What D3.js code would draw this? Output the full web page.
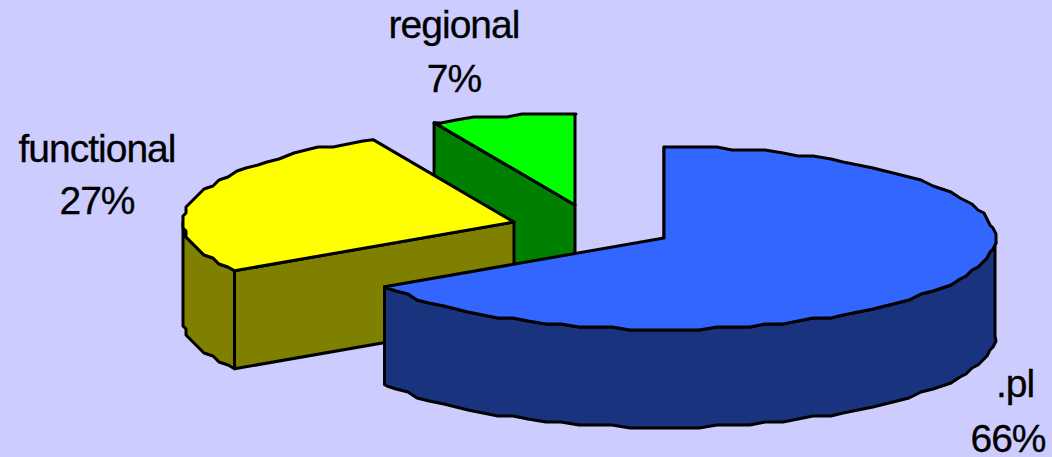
<!DOCTYPE html>
<html>
<head>
<meta charset="utf-8">
<script src="https://cdn.jsdelivr.net/npm/d3@7"></script>
<style>
  html, body { margin: 0; padding: 0; background: #ccccff; }
  svg { display: block; }
  text { font-family: "Liberation Sans", Arial, sans-serif; font-size: 39px; letter-spacing: -1px; fill: #000; stroke: #000; stroke-width: 0.3px; text-anchor: middle; }
</style>
</head>
<body>
<div id="chart"></div>
<script>
// ---- Data ----
const categories = [".pl", "functional", "regional"];
const shares = [66, 27, 7];

// ---- Styles / layout ----
const topColors = ["#3366ff", "#ffff00", "#00ff00"];
const sideColors = ["#19337f", "#808000", "#008000"];
const centers = [[664, 238], [514, 222], [575, 205]]; // exploded slices
const labelAt = [
  [[1015, 397], [1008, 452]],
  [[97, 162], [97, 214]],
  [[454, 38], [454, 92]]
];
const width = 1052, height = 457;
const rx = 331, ry = 91, depth = 98;
const snap = 3; // the source has a stepped, low-res outline
const step = Math.PI / 60; // fixed angle grid, so wall and top rims line up

const svg = d3.select("#chart").append("svg")
  .attr("width", width).attr("height", height);
svg.append("rect").attr("width", width).attr("height", height).attr("fill", "#ccccff");

const arcs = d3.pie().sort(null).startAngle(0).endAngle(2 * Math.PI)(shares);
const sx = d3.scaleLinear([-1, 1], [-rx, rx]);
const sy = d3.scaleLinear([-1, 1], [ry, -ry]);
const line = d3.line();

const rim = (a, [cx, cy]) => [cx + sx(Math.sin(a)), cy + sy(Math.cos(a))];

// points along the rim; inner ones get snapped to the coarse grid
function rimPoints(a0, a1, c) {
  const pts = [rim(a0, c)];
  for (let k = Math.floor(a0 / step) + 1; k * step < a1; k++) {
    const p = rim(k * step, c);
    const q = [Math.round(p[0] / snap) * snap, Math.round(p[1] / snap) * snap];
    const last = pts[pts.length - 1];
    if (q[0] !== last[0] || q[1] !== last[1]) pts.push(q);
  }
  pts.push(rim(a1, c));
  return pts;
}

const outline = g => g.attr("stroke", "#000").attr("stroke-width", 3).attr("stroke-linejoin", "round");
const down = p => [p[0], p[1] + depth];

// painter's order: back slices first
[2, 1, 0].forEach(i => {
  const d = arcs[i];
  const c = centers[i];
  const g = svg.append("g").call(outline);

  // cut face at the slice's start angle
  const s = rim(d.startAngle, c);
  g.append("path")
    .attr("d", line([c, s, down(s), down(c)]) + "Z")
    .attr("fill", sideColors[i]);

  // outer wall, only the front half of the rim shows
  const a0 = Math.max(d.startAngle, Math.PI / 2);
  const a1 = Math.min(d.endAngle, 3 * Math.PI / 2);
  if (a1 > a0) {
    const pts = rimPoints(a0, a1, c);
    g.append("path")
      .attr("d", line(pts.concat(pts.map(down).reverse())) + "Z")
      .attr("fill", sideColors[i]);
  }

  // top surface
  g.append("path")
    .attr("d", line([c].concat(rimPoints(d.startAngle, d.endAngle, c))) + "Z")
    .attr("fill", topColors[i]);
});

// ---- Labels ----
categories.forEach((name, i) => {
  const [a, b] = labelAt[i];
  svg.append("text").attr("x", a[0]).attr("y", a[1]).text(name);
  svg.append("text").attr("x", b[0]).attr("y", b[1]).text(shares[i] + "%");
});
</script>
</body>
</html>
